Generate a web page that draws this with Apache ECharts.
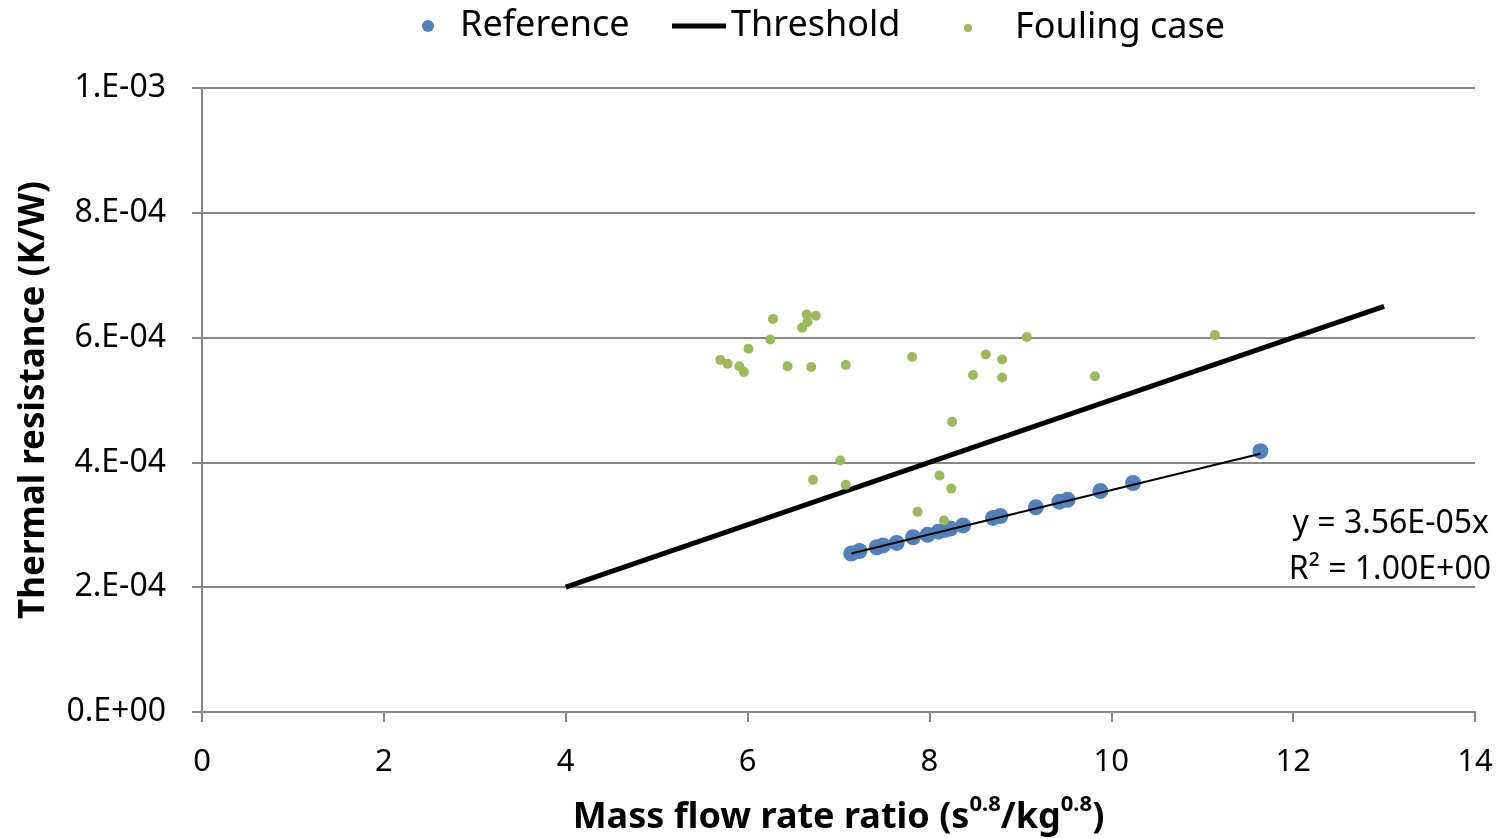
<!DOCTYPE html>
<html>
<head>
<meta charset="utf-8">
<script src="https://cdn.jsdelivr.net/npm/echarts@6/dist/echarts.min.js"></script>
<style>html,body{margin:0;padding:0;background:#fff;overflow:hidden;}#c{width:1499px;height:839px;}</style>
</head>
<body>
<div id="c"></div>
<script>
// Reference (mass flow rate ratio, thermal resistance)
const referenceX = [7.14, 7.23, 7.42, 7.49, 7.64, 7.82, 7.98, 8.10, 8.17, 8.23, 8.37, 8.70, 8.78, 9.17, 9.43, 9.52, 9.88, 10.24, 11.64];
const referenceY = [2.54e-4, 2.58e-4, 2.64e-4, 2.67e-4, 2.71e-4, 2.80e-4, 2.84e-4, 2.89e-4, 2.92e-4, 2.94e-4, 2.99e-4, 3.11e-4, 3.14e-4, 3.28e-4, 3.37e-4, 3.40e-4, 3.54e-4, 3.67e-4, 4.18e-4];
// Fouling case
const foulingX = [5.70, 5.78, 5.91, 5.96, 6.01, 6.25, 6.28, 6.44, 6.60, 6.65, 6.66, 6.75, 6.70, 7.08,
                  7.81, 8.62, 8.80, 8.48, 8.80, 9.07, 9.82, 11.14,
                  8.25, 7.02, 6.72, 7.08, 8.11, 8.24, 7.87, 8.16];
const foulingY = [5.64e-4, 5.58e-4, 5.54e-4, 5.45e-4, 5.82e-4, 5.97e-4, 6.30e-4, 5.54e-4, 6.16e-4, 6.37e-4, 6.25e-4, 6.35e-4, 5.53e-4, 5.56e-4,
                  5.69e-4, 5.73e-4, 5.65e-4, 5.40e-4, 5.36e-4, 6.01e-4, 5.38e-4, 6.04e-4,
                  4.65e-4, 4.03e-4, 3.72e-4, 3.64e-4, 3.79e-4, 3.58e-4, 3.21e-4, 3.07e-4];
// Threshold line end points
const thresholdX = [4, 13];
const thresholdY = [2.0e-4, 6.5e-4];
// Linear trend line of the reference (y = 3.56E-05x)
const trendX = [7.14, 11.64];
const trendY = [2.54e-4, 4.14e-4];
const trendLabels = ['y = 3.56E-05x', 'R\u00b2 = 1.00E+00'];
const yTickLabels = ['0.E+00', '2.E-04', '4.E-04', '6.E-04', '8.E-04', '1.E-03'];
const seriesNames = ['Reference', 'Threshold', 'Fouling case'];

const zip = (xs, ys) => xs.map((x, i) => [x, ys[i]]);
const FONT = 'Noto Sans';
const chart = echarts.init(document.getElementById('c'), null, {renderer: 'canvas'});
const legendText = {fontFamily: FONT, fontSize: 36, color: '#000'};
chart.setOption({
  animation: false,
  textStyle: {fontFamily: FONT},
  grid: {left: 202, right: 24, top: 88, bottom: 127, containLabel: false, outerBoundsMode: 'none'},
  legend: [
    {data: [{name: seriesNames[0], icon: 'circle'}], left: 417, top: 3, itemWidth: 54, itemHeight: 12, textStyle: legendText},
    {data: [{name: seriesNames[1], icon: 'rect'}], left: 667, top: 3, itemWidth: 54, itemHeight: 5, textStyle: legendText},
    {data: [{name: seriesNames[2], icon: 'circle'}], left: 959, top: 5, itemWidth: 84, itemHeight: 8, textStyle: legendText}
  ],
  xAxis: {
    type: 'value', min: 0, max: 14, interval: 2,
    axisLine: {show: true, lineStyle: {color: '#868686', width: 2}},
    axisTick: {show: true, length: 10, lineStyle: {color: '#868686', width: 2}},
    axisLabel: {fontFamily: FONT, fontSize: 31, color: '#000', margin: 35},
    splitLine: {show: false},
    name: '{a|Mass flow rate ratio (s}{s|0.8}{a|/kg}{s|0.8}{a|)}',
    nameLocation: 'middle', nameGap: 82,
    nameTextStyle: {
      rich: {
        a: {fontFamily: FONT, fontSize: 36, fontWeight: 'bold', color: '#000', verticalAlign: 'bottom', lineHeight: 42},
        s: {fontFamily: FONT, fontSize: 22, fontWeight: 'bold', color: '#000', verticalAlign: 'top', lineHeight: 42, padding: [0, 0, 16, 0]}
      }
    }
  },
  yAxis: {
    type: 'value', min: 0, max: 0.001, interval: 0.0002,
    axisLine: {show: true, lineStyle: {color: '#868686', width: 2}},
    axisTick: {show: true, length: 10, lineStyle: {color: '#868686', width: 2}},
    axisLabel: {fontFamily: FONT, fontSize: 32, color: '#000', margin: 36,
      formatter: v => yTickLabels[Math.round(v / 0.0002)]},
    splitLine: {show: true, lineStyle: {color: '#868686', width: 2}},
    name: 'Thermal resistance (K/W)', nameLocation: 'middle', nameGap: 150,
    nameTextStyle: {fontFamily: FONT, fontSize: 35, fontWeight: 'bold', color: '#000'}
  },
  series: [
    {name: seriesNames[0], type: 'scatter', data: zip(referenceX, referenceY), symbolSize: 16,
      itemStyle: {color: '#4F81BD', opacity: 1}, z: 2},
    {name: seriesNames[1], type: 'line', data: zip(thresholdX, thresholdY), symbol: 'none',
      lineStyle: {color: '#000', width: 5}, itemStyle: {color: '#000'}, z: 3},
    {name: seriesNames[2], type: 'scatter', data: zip(foulingX, foulingY), symbolSize: 10,
      itemStyle: {color: '#9BBB59', opacity: 1}, z: 4},
    {name: 'trend', type: 'line', data: zip(trendX, trendY), symbol: 'none',
      lineStyle: {color: '#000', width: 2}, z: 5, silent: true}
  ],
  graphic: [
    {type: 'text', right: 10, top: 508, style: {text: trendLabels[0], font: '32px "Noto Sans"', fill: '#000', textAlign: 'right'}},
    {type: 'text', right: 8, top: 554, style: {text: trendLabels[1], font: '32px "Noto Sans"', fill: '#000', textAlign: 'right'}}
  ]
});
</script>
</body>
</html>
